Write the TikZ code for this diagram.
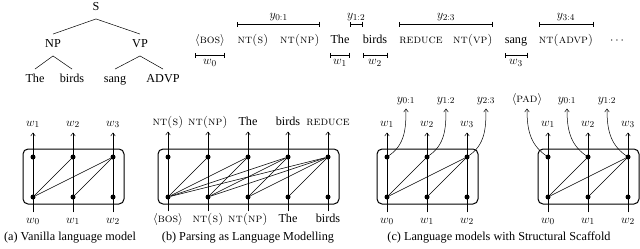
\documentclass[tikz,border=0pt]{standalone}
\usepackage{fontspec}
\newfontfamily\tm{Liberation Serif}
\usetikzlibrary{arrows.meta,calc}
\begin{document}
\begin{tikzpicture}[x=1pt,y=-1pt,
  every node/.style={font=\fontsize{12.2}{14}\selectfont},
  tree/.style={font=\fontsize{12.2}{14}\selectfont\tm, text height=8pt, text depth=2.5pt, inner sep=5.5pt},
  seq/.style={inner sep=0pt, text height=8.5pt, text depth=2.5pt},
  brk/.style={{Bar[width=5pt]}-{Bar[width=5pt]}, line width=0.6pt},
  lab/.style={inner sep=4.5pt, text height=6pt, text depth=2pt},
  dot/.style={circle, fill, inner sep=0pt, minimum size=5pt},
  arr/.style={-{To[length=3.5pt,width=5pt]}, line width=0.5pt},
  edg/.style={line width=0.5pt},
  box/.style={draw, rounded corners=5pt, line width=1pt},
  captxt/.style={font=\fontsize{12.2}{14}\selectfont\tm}
]
\useasboundingbox (0,0) rectangle (640,249);

% ---------- tree ----------
\node[tree] (S) at (96,8) {S};
\node[tree] (NP) at (53,45) {NP};
\node[tree] (VP) at (140,45) {VP};
\node[tree] (The) at (35,80) {The};
\node[tree] (birdsT) at (72,80) {birds};
\node[tree] (sangT) at (115,80) {sang};
\node[tree] (ADVP) at (163,80) {ADVP};
\draw[edg] (S.south) -- (NP.north);
\draw[edg] (S.south) -- (VP.north);
\draw[edg] (NP.south) -- (The.north);
\draw[edg] (NP.south) -- (birdsT.north);
\draw[edg] (VP.south) -- (sangT.north);
\draw[edg] (VP.south) -- (ADVP.north);

% ---------- sequence ----------
\node[seq] (bos) at (210,40) {$\langle$\textsc{bos}$\rangle$};
\node[seq] (ntS) at (253,40) {\textsc{nt(s)}};
\node[seq] (ntNP) at (300,40) {\textsc{nt(np)}};
\node[seq] (the) at (340,40) {\tm The};
\node[seq] (birds) at (375,40) {\tm birds};
\node[seq] (red) at (421,40) {\textsc{reduce}};
\node[seq] (ntVP) at (473,40) {\textsc{nt(vp)}};
\node[seq] (sang) at (516,40) {\tm sang};
\node[seq] (ntADVP) at (566,40) {\textsc{nt(advp)}};
\node[seq] (dots) at (617,40) {$\cdots$};

\draw[brk] ([yshift=16pt]ntS.west) -- ([yshift=16pt]ntNP.east) node[midway,above,inner sep=3pt] {$y_{0:1}$};
\draw[brk] ([yshift=16pt]the.east) -- ([yshift=16pt]birds.west) node[midway,above,inner sep=3pt] {$y_{1:2}$};
\draw[brk] ([yshift=16pt]red.west) -- ([yshift=16pt]ntVP.east) node[midway,above,inner sep=3pt] {$y_{2:3}$};
\draw[brk] ([yshift=16pt]ntADVP.west) -- ([yshift=16pt]ntADVP.east) node[midway,above,inner sep=3pt] {$y_{3:4}$};

\draw[brk] ([yshift=-15pt]bos.west) -- ([yshift=-15pt]bos.east) node[midway,below,inner sep=4pt] {$w_0$};
\draw[brk] ([yshift=-15pt]the.west) -- ([yshift=-15pt]the.east) node[midway,below,inner sep=4pt] {$w_1$};
\draw[brk] ([yshift=-15pt]birds.west) -- ([yshift=-15pt]birds.east) node[midway,below,inner sep=4pt] {$w_2$};
\draw[brk] ([yshift=-15pt]sang.west) -- ([yshift=-15pt]sang.east) node[midway,below,inner sep=4pt] {$w_3$};

% ---------- panel (a) ----------
\foreach \i/\j in {0/1,1/2,2/3} {
  \node[lab] (a-wt\i) at (33+40*\i,124) {$w_{\j}$};
  \node[lab] (a-wb\i) at (33+40*\i,221) {$w_{\i}$};
  \draw[arr] (a-wb\i) -- (a-wt\i);
  \node[dot] (a-t\i) at (33+40*\i,157) {};
  \node[dot] (a-b\i) at (33+40*\i,197) {};
}
\draw[box] ($(a-t0)+(-10,-8)$) rectangle ($(a-b2)+(11,7)$);
\draw[edg] (a-b0) -- (a-t1);
\draw[edg] (a-b0) -- (a-t2);
\draw[edg] (a-b1) -- (a-t2);
\node[captxt] (capa) at (70,238) {(a) Vanilla language model};

% ---------- panel (b) ----------
\foreach \i/\top/\bot in {0/\textsc{nt(s)}/$\langle$\textsc{bos}$\rangle$,
                          1/\textsc{nt(np)}/\textsc{nt(s)},
                          2/{\tm The}/\textsc{nt(np)},
                          3/{\tm birds}/{\tm The},
                          4/\textsc{reduce}/{\tm birds}} {
  \node[lab] (b-wt\i) at (168+40*\i,123) {\top};
  \node[lab] (b-wb\i) at (168+40*\i,220) {\bot};
  \draw[arr] (b-wb\i) -- (b-wt\i);
  \node[dot] (b-t\i) at (168+40*\i,157) {};
  \node[dot] (b-b\i) at (168+40*\i,197) {};
}
\draw[box] ($(b-t0)+(-10,-8)$) rectangle ($(b-b4)+(11,7)$);
\foreach \i/\js in {0/{1,2,3,4},1/{2,3,4},2/{3,4},3/{4}} {
  \foreach \j in \js { \draw[edg] (b-b\i) -- (b-t\j); }
}
\node[captxt] (capb) at (248,238) {(b) Parsing as Language Modelling};

% ---------- panel (c), left ----------
\foreach \i/\j/\y in {0/1/{0:1},1/2/{1:2},2/3/{2:3}} {
  \node[lab] (c-wt\i) at (387+40*\i,124) {$w_{\j}$};
  \node[lab] (c-wb\i) at (387+40*\i,221) {$w_{\i}$};
  \draw[arr] (c-wb\i) -- (c-wt\i);
  \node[dot] (c-t\i) at (387+40*\i,157) {};
  \node[dot] (c-b\i) at (387+40*\i,197) {};
  \node[lab] (c-y\i) at (406+40*\i,100) {$y_{\y}$};
  \draw[arr] (c-t\i) to[out=35,in=-90] (c-y\i);
}
\draw[box] ($(c-t0)+(-10,-8)$) rectangle ($(c-b2)+(11,7)$);
\draw[edg] (c-b0) -- (c-t1);
\draw[edg] (c-b0) -- (c-t2);
\draw[edg] (c-b1) -- (c-t2);

% ---------- panel (c), right ----------
\foreach \i/\j/\y in {0/1/{\langle\textsc{pad}\rangle},1/2/{y_{0:1}},2/3/{y_{1:2}}} {
  \node[lab] (d-wt\i) at (548+40*\i,124) {$w_{\j}$};
  \node[lab] (d-wb\i) at (548+40*\i,221) {$w_{\i}$};
  \draw[arr] (d-wb\i) -- (d-wt\i);
  \node[dot] (d-t\i) at (548+40*\i,157) {};
  \node[dot] (d-b\i) at (548+40*\i,197) {};
  \node[lab] (d-y\i) at (527+40*\i,100) {$\y$};
  \draw[arr] (d-t\i) to[out=145,in=-90] (d-y\i);
}
\draw[box] ($(d-t0)+(-10,-8)$) rectangle ($(d-b2)+(11,7)$);
\draw[edg] (d-b0) -- (d-t1);
\draw[edg] (d-b0) -- (d-t2);
\draw[edg] (d-b1) -- (d-t2);
\node[captxt] (capc) at (499,238) {(c) Language models with Structural Scaffold};
\end{tikzpicture}
\end{document}
